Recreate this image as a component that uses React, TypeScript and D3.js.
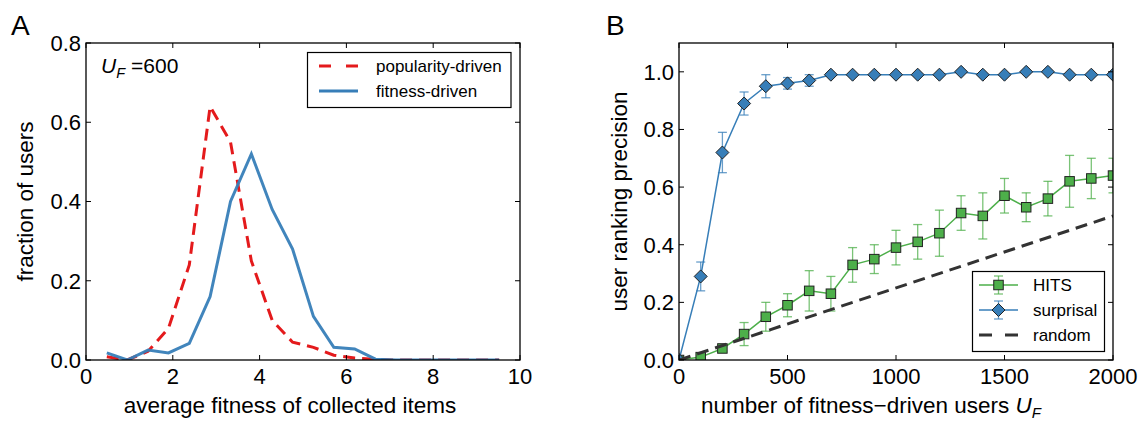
import React from "react";
import * as d3 from "d3";

// ---------- Panel A data ----------
const fitnessBins = [0.48, 0.95, 1.43, 1.9, 2.38, 2.86, 3.33, 3.81, 4.29, 4.76, 5.24, 5.71, 6.19, 6.67, 7.14, 7.62, 8.1, 8.57, 9.05, 9.52];
const popularityDriven = [0.008, 0.0, 0.022, 0.08, 0.24, 0.64, 0.55, 0.25, 0.1, 0.045, 0.032, 0.012, 0.005, 0.002, 0, 0, 0, 0, 0, 0];
const fitnessDriven = [0.018, 0.0, 0.025, 0.018, 0.042, 0.16, 0.4, 0.52, 0.38, 0.28, 0.11, 0.032, 0.028, 0.002, 0, 0, 0, 0, 0, 0];
const xTicksA = [0, 2, 4, 6, 8, 10];
const yTicksA = [0, 0.2, 0.4, 0.6, 0.8];

// ---------- Panel B data ----------
const usersUF = [0, 100, 200, 300, 400, 500, 600, 700, 800, 900, 1000, 1100, 1200, 1300, 1400, 1500, 1600, 1700, 1800, 1900, 2000];
const surprisal = [0, 0.29, 0.72, 0.89, 0.95, 0.96, 0.97, 0.99, 0.99, 0.99, 0.99, 0.99, 0.99, 1.0, 0.99, 0.99, 1.0, 1.0, 0.99, 0.99, 0.99];
const surprisalErr = [0, 0.05, 0.07, 0.04, 0.04, 0.02, 0.02, 0.004, 0.004, 0.004, 0.004, 0.004, 0.004, 0.004, 0.004, 0.004, 0.004, 0.004, 0.004, 0.004, 0.004];
const hits = [0, 0.01, 0.04, 0.09, 0.15, 0.19, 0.24, 0.23, 0.33, 0.35, 0.39, 0.41, 0.44, 0.51, 0.5, 0.57, 0.53, 0.56, 0.62, 0.63, 0.64];
const hitsErr = [0, 0.01, 0.01, 0.04, 0.05, 0.04, 0.07, 0.06, 0.06, 0.05, 0.06, 0.06, 0.08, 0.06, 0.08, 0.06, 0.05, 0.06, 0.09, 0.07, 0.06];
const randomX = [0, 2000];
const randomY = [0, 0.5];
const xTicksB = [0, 500, 1000, 1500, 2000];
const yTicksB = [0, 0.2, 0.4, 0.6, 0.8, 1.0];

const RED = "#e41a1c";
const BLUE = "#377eb8";
const GREEN = "#4daf4a";
const FONT = "'Liberation Sans', Arial, Helvetica, sans-serif";
const TICK_FS = 22;
const LABEL_FS = 22.5;
const LEG_FS = 17;
const TICK_LEN = 5;

type Frame = { x0: number; x1: number; y0: number; y1: number };

function Axes({ f, xs, ys, xTicks, yTicks, xFmt, yFmt }: any) {
  return (
    <g>
      {xTicks.map((t: number) => (
        <g key={"x" + t}>
          <line x1={xs(t)} x2={xs(t)} y1={f.y1} y2={f.y1 - TICK_LEN} stroke="#000" strokeWidth={1} />
          <line x1={xs(t)} x2={xs(t)} y1={f.y0} y2={f.y0 + TICK_LEN} stroke="#000" strokeWidth={1} />
          <text x={xs(t)} y={f.y1 + 24} textAnchor="middle" fontSize={TICK_FS}>{xFmt(t)}</text>
        </g>
      ))}
      {yTicks.map((t: number) => (
        <g key={"y" + t}>
          <line x1={f.x0} x2={f.x0 + TICK_LEN} y1={ys(t)} y2={ys(t)} stroke="#000" strokeWidth={1} />
          <line x1={f.x1} x2={f.x1 - TICK_LEN} y1={ys(t)} y2={ys(t)} stroke="#000" strokeWidth={1} />
          <text x={f.x0 - 5} y={ys(t)} dy="0.36em" textAnchor="end" fontSize={TICK_FS}>{yFmt(t)}</text>
        </g>
      ))}
      <rect x={f.x0} y={f.y0} width={f.x1 - f.x0} height={f.y1 - f.y0} fill="none" stroke="#000" strokeWidth={1.3} />
    </g>
  );
}

function diamondPath(cx: number, cy: number, r: number) {
  return `M${cx},${cy - r}L${cx + r},${cy}L${cx},${cy + r}L${cx - r},${cy}Z`;
}

export default function App() {
  const fA: Frame = { x0: 86, x1: 520, y0: 43, y1: 360 };
  const fB: Frame = { x0: 679, x1: 1113, y0: 43, y1: 360 };
  const xA = d3.scaleLinear().domain([0, 10]).range([fA.x0, fA.x1]);
  const yA = d3.scaleLinear().domain([0, 0.8]).range([fA.y1, fA.y0]);
  const xB = d3.scaleLinear().domain([0, 2000]).range([fB.x0, fB.x1]);
  const yB = d3.scaleLinear().domain([0, 1.1]).range([fB.y1, fB.y0]);

  const lineA = (vals: number[]) =>
    d3.line<number>().x((_, i) => xA(fitnessBins[i])).y((v) => yA(v))(vals) || "";
  const lineB = (xsArr: number[], vals: number[]) =>
    d3.line<number>().x((_, i) => xB(xsArr[i])).y((v) => yB(v))(vals) || "";

  const capW = 4.5;
  const errBars = (vals: number[], errs: number[], color: string) =>
    usersUF.map((u, i) => {
      const x = xB(u);
      const yt = yB(vals[i] + errs[i]);
      const yb = yB(vals[i] - errs[i]);
      return (
        <g key={i} stroke={color} strokeWidth={1.3} strokeOpacity={0.75}>
          <line x1={x} x2={x} y1={yt} y2={yb} />
          <line x1={x - capW} x2={x + capW} y1={yt} y2={yt} />
          <line x1={x - capW} x2={x + capW} y1={yb} y2={yb} />
        </g>
      );
    });

  const sq = 9.5;
  const dr = 6.5;

  const lgB = { x: 972, y: 271, w: 132, h: 80 };
  const lgRows = [285, 310, 335];
  const lgLx0 = 979, lgLx1 = 1018, lgMx = 998.5, lgTx = 1033;

  return (
    <div style={{ position: "absolute", left: 0, top: 0 }}>
      <svg width={1145} height={422} fontFamily={FONT} style={{ display: "block", background: "#fff" }}>
        <defs>
          <clipPath id="clipA"><rect x={fA.x0} y={fA.y0} width={fA.x1 - fA.x0} height={fA.y1 - fA.y0} /></clipPath>
          <clipPath id="clipB"><rect x={fB.x0} y={fB.y0} width={fB.x1 - fB.x0} height={fB.y1 - fB.y0} /></clipPath>
        </defs>
        <rect width={1145} height={422} fill="#fff" />

        {/* ---------------- Panel A ---------------- */}
        <text x={11} y={35} fontSize={28}>A</text>
        <g clipPath="url(#clipA)">
          <path d={lineA(popularityDriven)} fill="none" stroke={RED} strokeWidth={3} strokeDasharray="12,7" />
          <path d={lineA(fitnessDriven)} fill="none" stroke={BLUE} strokeWidth={3} strokeOpacity={0.95} />
        </g>
        <Axes f={fA} xs={xA} ys={yA} xTicks={xTicksA} yTicks={yTicksA} xFmt={(t: number) => String(t)} yFmt={(t: number) => t.toFixed(1)} />
        <text x={101} y={73} fontSize={21}>
          <tspan fontStyle="italic">U</tspan>
          <tspan fontStyle="italic" fontSize={14.5} dy={5}>F</tspan>
          <tspan dy={-5} dx={6}>=600</tspan>
        </text>
        <g>
          <rect x={307.5} y={52.5} width={203.5} height={55} fill="#fff" stroke="#000" strokeWidth={1.2} />
          <line x1={319} x2={358} y1={66} y2={66} stroke={RED} strokeWidth={3} strokeDasharray="12,15" />
          <text x={376} y={66} dy="0.36em" fontSize={LEG_FS}>popularity-driven</text>
          <line x1={319} x2={358} y1={91} y2={91} stroke={BLUE} strokeWidth={3} />
          <text x={376} y={91} dy="0.36em" fontSize={LEG_FS}>fitness-driven</text>
        </g>
        <text x={290} y={413} textAnchor="middle" fontSize={LABEL_FS}>average fitness of collected items</text>
        <text transform={`translate(33,${(fA.y0 + fA.y1) / 2}) rotate(-90)`} textAnchor="middle" fontSize={LABEL_FS}>fraction of users</text>

        {/* ---------------- Panel B ---------------- */}
        <text x={606} y={35} fontSize={28}>B</text>
        <g clipPath="url(#clipB)">
          {errBars(hits, hitsErr, GREEN)}
          <path d={lineB(usersUF, hits)} fill="none" stroke={GREEN} strokeWidth={1.5} />
          {usersUF.map((u, i) => (
            <rect key={"s" + i} x={xB(u) - sq / 2} y={yB(hits[i]) - sq / 2} width={sq} height={sq} fill={GREEN} stroke="#222" strokeWidth={1} />
          ))}
          {errBars(surprisal, surprisalErr, BLUE)}
          <path d={lineB(usersUF, surprisal)} fill="none" stroke={BLUE} strokeWidth={1.5} />
          {usersUF.map((u, i) => (
            <path key={"d" + i} d={diamondPath(xB(u), yB(surprisal[i]), dr)} fill={BLUE} stroke="#222" strokeWidth={1} />
          ))}
          <path d={lineB(randomX, randomY)} fill="none" stroke="#333" strokeWidth={3} strokeDasharray="12,7" />
        </g>
        <Axes f={fB} xs={xB} ys={yB} xTicks={xTicksB} yTicks={yTicksB} xFmt={(t: number) => String(t)} yFmt={(t: number) => t.toFixed(1)} />
        <g>
          <rect x={lgB.x + 0.5} y={lgB.y + 0.5} width={lgB.w} height={lgB.h} fill="#fff" stroke="#000" strokeWidth={1.2} />
          <line x1={lgLx0} x2={lgLx1} y1={lgRows[0]} y2={lgRows[0]} stroke={GREEN} strokeWidth={1.5} />
          <g stroke={GREEN} strokeWidth={1.3} strokeOpacity={0.75}>
            <line x1={lgMx} x2={lgMx} y1={lgRows[0] - 9} y2={lgRows[0] + 9} />
            <line x1={lgMx - capW} x2={lgMx + capW} y1={lgRows[0] - 9} y2={lgRows[0] - 9} />
            <line x1={lgMx - capW} x2={lgMx + capW} y1={lgRows[0] + 9} y2={lgRows[0] + 9} />
          </g>
          <rect x={lgMx - sq / 2} y={lgRows[0] - sq / 2} width={sq} height={sq} fill={GREEN} stroke="#222" strokeWidth={1} />
          <text x={lgTx} y={lgRows[0]} dy="0.36em" fontSize={LEG_FS}>HITS</text>
          <line x1={lgLx0} x2={lgLx1} y1={lgRows[1]} y2={lgRows[1]} stroke={BLUE} strokeWidth={1.5} />
          <g stroke={BLUE} strokeWidth={1.3} strokeOpacity={0.75}>
            <line x1={lgMx} x2={lgMx} y1={lgRows[1] - 9} y2={lgRows[1] + 9} />
            <line x1={lgMx - capW} x2={lgMx + capW} y1={lgRows[1] - 9} y2={lgRows[1] - 9} />
            <line x1={lgMx - capW} x2={lgMx + capW} y1={lgRows[1] + 9} y2={lgRows[1] + 9} />
          </g>
          <path d={diamondPath(lgMx, lgRows[1], dr)} fill={BLUE} stroke="#222" strokeWidth={1} />
          <text x={lgTx} y={lgRows[1]} dy="0.36em" fontSize={LEG_FS}>surprisal</text>
          <line x1={lgLx0} x2={lgLx1} y1={lgRows[2]} y2={lgRows[2]} stroke="#333" strokeWidth={3} strokeDasharray="13,13" />
          <text x={lgTx} y={lgRows[2]} dy="0.36em" fontSize={LEG_FS}>random</text>
        </g>
        <text x={871} y={413} textAnchor="middle" fontSize={LABEL_FS}>
          <tspan>number of fitness−driven users </tspan>
          <tspan fontStyle="italic">U</tspan>
          <tspan fontStyle="italic" fontSize={15} dy={5}>F</tspan>
        </text>
        <text transform={`translate(627,${(fB.y0 + fB.y1) / 2}) rotate(-90)`} textAnchor="middle" fontSize={LABEL_FS}>user ranking precision</text>
      </svg>
    </div>
  );
}
